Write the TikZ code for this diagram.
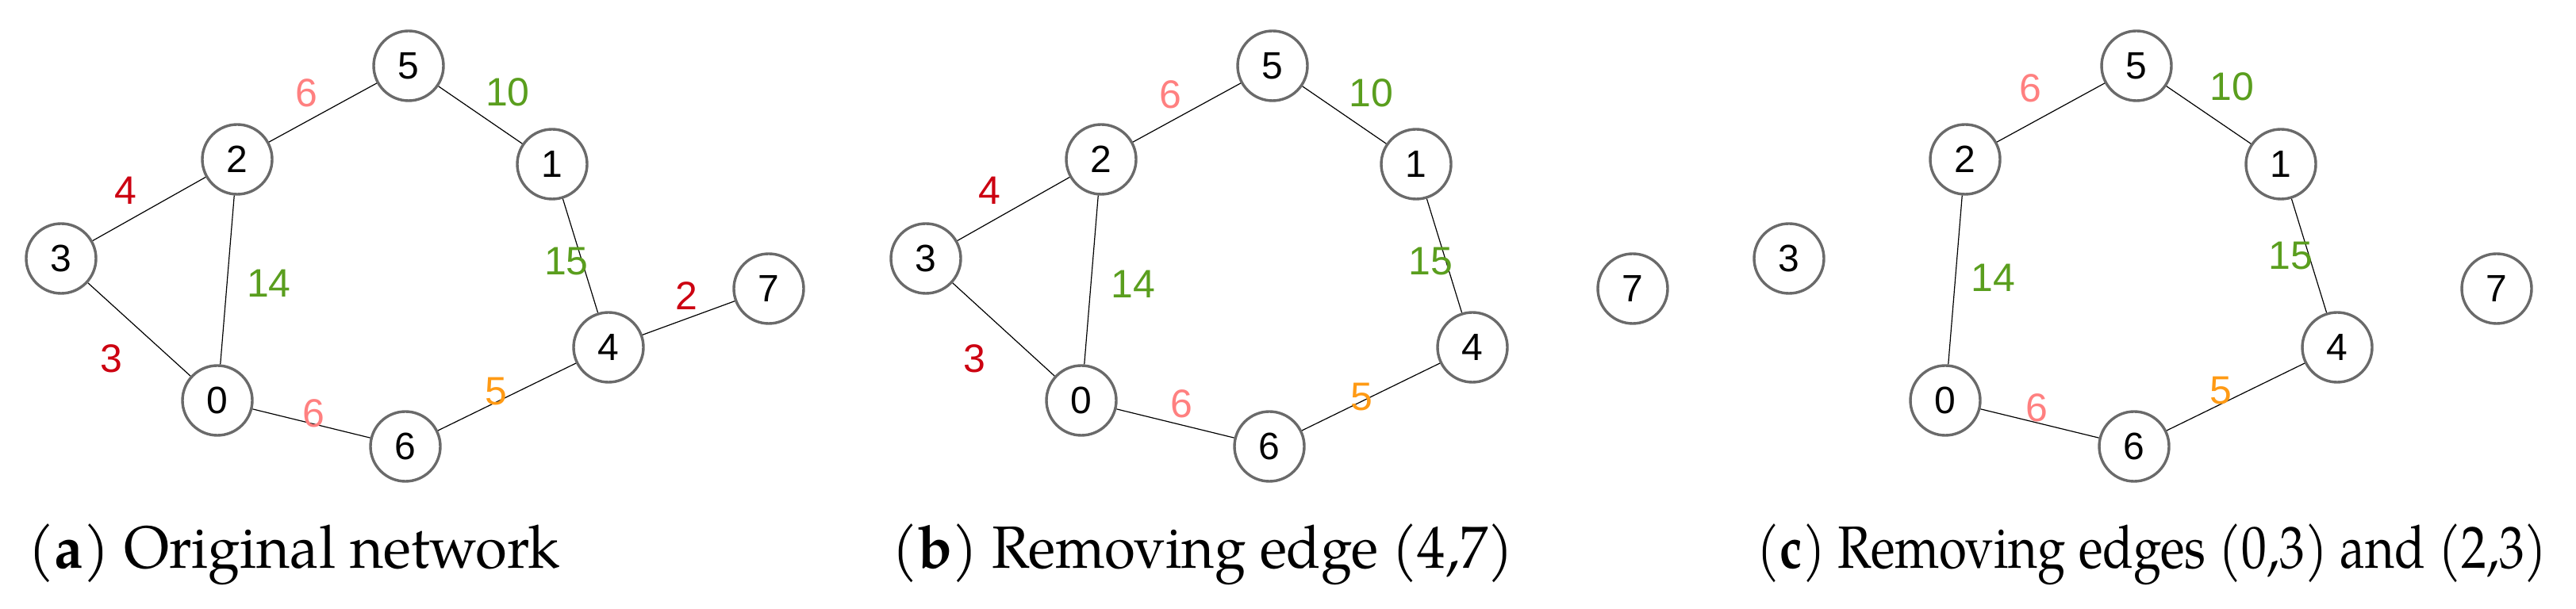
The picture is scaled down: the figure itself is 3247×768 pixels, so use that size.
\documentclass[tikz,border=0pt]{standalone}
\usepackage{fontspec}
\setmainfont{texgyrepagella-regular.otf}[BoldFont=texgyrepagella-bold.otf]
\newfontfamily\arialf{Liberation Sans}
\usepackage{graphicx}
\definecolor{ringgray}{HTML}{6A6A6A}
\definecolor{wred}{HTML}{CC0011}
\definecolor{wpink}{HTML}{FF8080}
\definecolor{wgreen}{HTML}{5A9E1E}
\definecolor{worange}{HTML}{FF9A14}
\tikzset{
  vtx/.style={circle, draw=ringgray, line width=0.85pt, minimum size=22pt, inner sep=0pt, fill=white,
    font=\arialf\fontsize{12}{14}\selectfont},
  edgeline/.style={line width=0.3pt, black},
  lbl/.style={inner sep=0pt, font=\arialf\fontsize{12.5}{14}\selectfont},
  capt/.style={anchor=base west, inner sep=0pt, font=\fontsize{18.8}{22}\selectfont}
}
\begin{document}
\begin{tikzpicture}[x=0.25pt,y=-0.25pt]
\useasboundingbox (0,0) rectangle (3247,768);
% ---------------- panel (a)
\begin{scope}
\node[vtx] (a5) at (515,83) {5};
\node[vtx] (a2) at (299,201) {2};
\node[vtx] (a1) at (696,207) {1};
\node[vtx] (a3) at (77,326) {3};
\node[vtx] (a7) at (969,364) {7};
\node[vtx] (a4) at (767,438) {4};
\node[vtx] (a0) at (274,505) {0};
\node[vtx] (a6) at (511,563) {6};
\draw[edgeline] (a0) -- (a3);
\draw[edgeline] (a0) -- (a2);
\draw[edgeline] (a2) -- (a3);
\draw[edgeline] (a2) -- (a5);
\draw[edgeline] (a5) -- (a1);
\draw[edgeline] (a1) -- (a4);
\draw[edgeline] (a4) -- (a7);
\draw[edgeline] (a4) -- (a6);
\draw[edgeline] (a6) -- (a0);
\node[lbl, text=wpink] (la25) at (386,117) {6};
\node[lbl, text=wgreen] (la51) at (640,116) {10};
\node[lbl, text=wred] (la32) at (158,240) {4};
\node[lbl, text=wgreen] (la20) at (339,357) {14};
\node[lbl, text=wgreen] (la14) at (714,330) {15};
\node[lbl, text=wred] (la47) at (865,373) {2};
\node[lbl, text=wred] (la30) at (140,452) {3};
\node[lbl, text=wpink] (la06) at (395,521) {6};
\node[lbl, text=worange] (la64) at (625,494) {5};
\node[capt] (capa) at (35,717) {\resizebox{167.5pt}{\height}{(\textbf{a}) Original network}};
\end{scope}
% ---------------- panel (b)
\begin{scope}[xshift=272.25pt]
\node[vtx] (b5) at (515,83) {5};
\node[vtx] (b2) at (299,201) {2};
\node[vtx] (b1) at (696,207) {1};
\node[vtx] (b3) at (78,326) {3};
\node[vtx] (b7) at (969,364) {7};
\node[vtx] (b4) at (767,438) {4};
\node[vtx] (b0) at (274,505) {0};
\node[vtx] (b6) at (511,563) {6};
\draw[edgeline] (b0) -- (b3);
\draw[edgeline] (b0) -- (b2);
\draw[edgeline] (b2) -- (b3);
\draw[edgeline] (b2) -- (b5);
\draw[edgeline] (b5) -- (b1);
\draw[edgeline] (b1) -- (b4);
\draw[edgeline] (b4) -- (b6);
\draw[edgeline] (b6) -- (b0);
\node[lbl, text=wpink] (lb25) at (386,119) {6};
\node[lbl, text=wgreen] (lb51) at (639,117) {10};
\node[lbl, text=wred] (lb32) at (158,240) {4};
\node[lbl, text=wgreen] (lb20) at (339,358) {14};
\node[lbl, text=wgreen] (lb14) at (714,330) {15};
\node[lbl, text=wred] (lb30) at (139,452) {3};
\node[lbl, text=wpink] (lb06) at (400,509) {6};
\node[lbl, text=worange] (lb64) at (627,501) {5};
\end{scope}
\node[capt] (capb) at (1124,717) {\resizebox{195.75pt}{\height}{(\textbf{b}) Removing edge (4,7)}};
% ---------------- panel (c)
\begin{scope}[xshift=544.5pt]
\node[vtx] (c5) at (515,83) {5};
\node[vtx] (c2) at (299,201) {2};
\node[vtx] (c1) at (697,207) {1};
\node[vtx] (c3) at (77,326) {3};
\node[vtx] (c7) at (969,364) {7};
\node[vtx] (c4) at (768,438) {4};
\node[vtx] (c0) at (274,505) {0};
\node[vtx] (c6) at (512,563) {6};
\draw[edgeline] (c0) -- (c2);
\draw[edgeline] (c2) -- (c5);
\draw[edgeline] (c5) -- (c1);
\draw[edgeline] (c1) -- (c4);
\draw[edgeline] (c4) -- (c6);
\draw[edgeline] (c6) -- (c0);
\node[lbl, text=wpink] (lc25) at (381,111) {6};
\node[lbl, text=wgreen] (lc51) at (635,109) {10};
\node[lbl, text=wgreen] (lc20) at (334,350) {14};
\node[lbl, text=wgreen] (lc14) at (709,323) {15};
\node[lbl, text=wpink] (lc06) at (389,514) {6};
\node[lbl, text=worange] (lc64) at (621,493) {5};
\end{scope}
\node[capt] (capc) at (2214,717) {\resizebox{249pt}{\height}{(\textbf{c}) Removing edges (0,3) and (2,3)}};
\end{tikzpicture}
\end{document}
